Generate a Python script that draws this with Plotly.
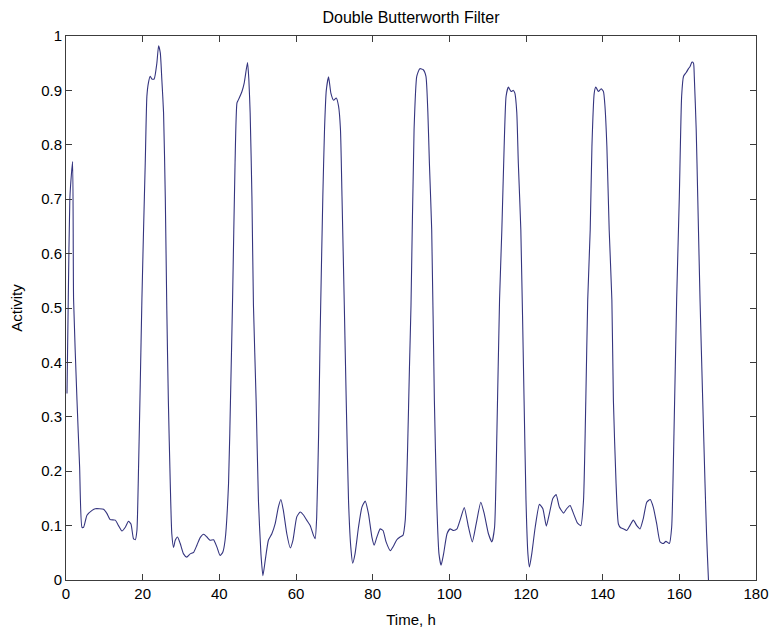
import plotly.graph_objects as go

# activity trace (time in hours)
time_h = [0.26, 0.6, 1.0, 1.4, 1.73, 1.98, 2.87, 3.55, 4.17, 4.6, 5.47, 6.8, 7.64, 9.8, 10.7,
          11.55, 12.85, 13.7, 14.6, 15.47, 16.3, 16.95, 17.6, 18.07, 18.5, 18.93, 19.37, 19.8,
          20.23, 20.67, 21.1, 21.5, 21.98, 22.4, 23.0, 23.7, 24.15, 24.6, 25.0, 25.45, 25.9,
          26.3, 26.7, 27.2, 27.6, 28.05, 28.5, 29.1, 29.8, 30.66, 31.5, 32.4, 33.3, 34.15,
          35.0, 35.9, 36.76, 37.6, 38.5, 39.4, 40.2, 40.9, 41.5, 42.4, 43.0, 43.45, 44.1, 44.6,
          45.0, 45.9, 46.5, 47.35, 47.7, 48.04, 48.5, 48.9, 49.6, 50.2, 50.85, 51.37, 51.97,
          52.8, 53.7, 54.55, 55.4, 56.06, 56.7, 57.6, 58.5, 59.2, 60.2, 61.1, 62.0, 62.8, 63.7,
          64.56, 65.0, 65.4, 65.9, 66.3, 67.0, 67.44, 67.9, 68.5, 69.1, 69.8, 70.5, 71.1, 71.6,
          72.0, 72.6, 73.1, 73.7, 74.3, 74.8, 75.4, 76.3, 77.2, 78.05, 78.9, 79.8, 80.4, 81.1,
          81.96, 82.7, 83.5, 84.6, 85.4, 86.3, 87.15, 87.9, 88.5, 89.1, 89.6, 90.0, 90.8, 91.5,
          92.3, 93.2, 93.9, 94.4, 94.8, 95.4, 96.1, 96.7, 97.3, 97.85, 98.5, 99.4, 100.2,
          101.1, 102.0, 102.8, 103.9, 105.0, 106.0, 107.0, 108.2, 109.1, 110.2, 111.1, 111.8,
          112.4, 113.1, 113.7, 114.3, 114.8, 115.4, 116.1, 116.7, 117.1, 117.6, 118.0, 118.65,
          119.5, 120.0, 120.5, 120.9, 121.5, 122.4, 123.5, 124.4, 125.3, 126.1, 127.0, 127.85,
          128.7, 129.8, 130.6, 131.5, 132.4, 133.4, 134.3, 135.0, 135.6, 136.1, 136.75, 137.2,
          137.8, 138.2, 138.9, 139.6, 140.2, 140.6, 141.1, 141.7, 142.4, 142.8, 143.5, 144.1,
          144.7, 145.4, 146.3, 147.1, 148.0, 148.9, 149.75, 150.6, 151.5, 152.4, 153.2, 154.1,
          154.97, 155.8, 156.5, 157.4, 158.0, 158.6, 159.3, 160.0, 160.6, 161.1, 161.8, 162.4,
          162.8, 163.3, 163.7, 163.9, 164.4, 164.8, 165.4, 166.1, 166.7, 167.1, 167.6, 167.8]
activity = [0.343, 0.52, 0.70, 0.745, 0.769, 0.515, 0.33, 0.208, 0.097, 0.097, 0.119, 0.128,
            0.131, 0.13, 0.122, 0.111, 0.11, 0.1, 0.09, 0.097, 0.108, 0.103, 0.076, 0.074,
            0.091, 0.208, 0.36, 0.515, 0.644, 0.766, 0.889, 0.914, 0.926, 0.921, 0.921, 0.95,
            0.982, 0.969, 0.92, 0.859, 0.705, 0.496, 0.33, 0.177, 0.085, 0.06, 0.073, 0.079,
            0.067, 0.048, 0.042, 0.048, 0.051, 0.064, 0.078, 0.084, 0.079, 0.073, 0.074, 0.06,
            0.045, 0.051, 0.073, 0.177, 0.361, 0.515, 0.766, 0.877, 0.883, 0.898, 0.914, 0.951,
            0.92, 0.859, 0.705, 0.505, 0.33, 0.146, 0.048, 0.008, 0.036, 0.073, 0.085, 0.103,
            0.134, 0.148, 0.128, 0.085, 0.059, 0.073, 0.116, 0.125, 0.119, 0.11, 0.1, 0.082,
            0.076, 0.116, 0.269, 0.453, 0.705, 0.828, 0.9, 0.925, 0.895, 0.882, 0.886, 0.871,
            0.828, 0.705, 0.505, 0.33, 0.146, 0.06, 0.031, 0.048, 0.097, 0.134, 0.145, 0.122,
            0.079, 0.064, 0.079, 0.094, 0.091, 0.07, 0.054, 0.062, 0.074, 0.079, 0.082, 0.11,
            0.238, 0.392, 0.505, 0.828, 0.926, 0.94, 0.938, 0.926, 0.859, 0.766, 0.644, 0.33,
            0.146, 0.048, 0.027, 0.048, 0.085, 0.094, 0.091, 0.094, 0.11, 0.133, 0.097, 0.07,
            0.103, 0.143, 0.122, 0.085, 0.07, 0.097, 0.269, 0.515, 0.644, 0.797, 0.889, 0.906,
            0.898, 0.9, 0.895, 0.859, 0.766, 0.644, 0.33, 0.146, 0.048, 0.024, 0.048, 0.097,
            0.139, 0.131, 0.099, 0.122, 0.15, 0.157, 0.134, 0.123, 0.131, 0.137, 0.122, 0.105,
            0.1, 0.146, 0.33, 0.515, 0.644, 0.797, 0.895, 0.906, 0.898, 0.903, 0.898, 0.871,
            0.797, 0.644, 0.515, 0.33, 0.177, 0.103, 0.096, 0.094, 0.091, 0.1, 0.11, 0.1, 0.094,
            0.113, 0.143, 0.148, 0.134, 0.103, 0.07, 0.067, 0.071, 0.067, 0.097, 0.269, 0.515,
            0.705, 0.889, 0.926, 0.933, 0.94, 0.944, 0.952, 0.95, 0.926, 0.828, 0.705, 0.515,
            0.33, 0.177, 0.085, 0.0, -0.02]

x_ticks = [0, 20, 40, 60, 80, 100, 120, 140, 160, 180]
y_ticks = [0, 0.1, 0.2, 0.3, 0.4, 0.5, 0.6, 0.7, 0.8, 0.9, 1]
y_labels = ['0', '0.1', '0.2', '0.3', '0.4', '0.5', '0.6', '0.7', '0.8', '0.9', '1']

fig = go.Figure()
fig.add_trace(go.Scatter(x=time_h, y=activity, mode='lines',
                         line=dict(color='#35357f', width=1.1, shape='spline', smoothing=0.5),
                         cliponaxis=True, showlegend=False))

axis_style = dict(showline=True, linecolor='#3c3c3c', linewidth=1, mirror='ticks',
                  ticks='inside', ticklen=6, tickcolor='#3c3c3c', showgrid=False,
                  zeroline=False, automargin=False,
                  tickfont=dict(size=15, color='black'))

fig.update_xaxes(range=[0, 180], tickvals=x_ticks,
                 title=dict(text='Time, h', font=dict(size=15, color='black'), standoff=13),
                 **axis_style)
fig.update_yaxes(range=[0, 1], tickvals=y_ticks, ticktext=y_labels,
                 title=dict(text='Activity', font=dict(size=15, color='black'), standoff=14),
                 **axis_style)

fig.update_layout(
    width=771, height=630,
    font=dict(family='Liberation Sans, Arial, sans-serif', color='black'),
    title=dict(text='Double Butterworth Filter', xref='paper', x=0.5, xanchor='center',
               yref='container', y=0.973, yanchor='middle', font=dict(size=16, color='black')),
    plot_bgcolor='white', paper_bgcolor='white',
    margin=dict(l=66, r=15, t=36, b=50),
)

# drop the page's default body margin so the figure fills the window exactly
fig.write_html('out.html', config={'displayModeBar': False},
               post_script="document.body.style.margin='0';")
